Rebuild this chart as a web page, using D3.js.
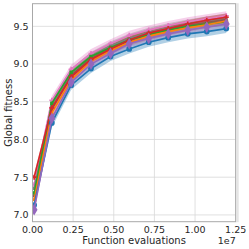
<!DOCTYPE html>
<html>
<head>
<meta charset="utf-8">
<style type="text/css">
    body{ margin:0; background:#fff; }
    svg text{ font-family: "DejaVu Sans", sans-serif; fill:#262626; }
</style>
<script src="https://cdn.jsdelivr.net/npm/d3@7"></script>
</head>
<body>
<div id="chart"></div>
<script type="text/javascript">

var evaluations = [0.1e6, 1.19e6, 2.38e6, 3.6e6, 4.8e6, 5.95e6, 7.15e6, 8.35e6, 9.55e6, 10.72e6, 11.92e6];

var blue   = [7.13, 8.22, 8.72, 8.94, 9.10, 9.20, 9.29, 9.35, 9.40, 9.43, 9.47];
var purple = [7.07, 8.28, 8.76, 9.00, 9.14, 9.27, 9.34, 9.40, 9.45, 9.49, 9.53];
var orange = [7.20, 8.35, 8.79, 9.04, 9.18, 9.29, 9.37, 9.43, 9.48, 9.52, 9.57];
var green  = [7.29, 8.48, 8.89, 9.10, 9.22, 9.32, 9.39, 9.45, 9.50, 9.53, 9.56];
var red    = [7.50, 8.42, 8.83, 9.06, 9.20, 9.32, 9.41, 9.47, 9.53, 9.58, 9.62];
var brown  = [7.25, 8.40, 8.85, 9.07, 9.21, 9.31, 9.39, 9.46, 9.51, 9.55, 9.59];
var gray   = [7.35, 8.45, 8.88, 9.10, 9.24, 9.34, 9.42, 9.48, 9.53, 9.57, 9.61];
var pink   = [7.40, 8.52, 8.93, 9.14, 9.27, 9.38, 9.45, 9.51, 9.56, 9.60, 9.64];

// half width of the shaded band of each run
var spreads = [0.06, 0.05, 0.05, 0.05, 0.05, 0.05, 0.06, 0.06];

var xTicks = [0, 0.25e7, 0.5e7, 0.75e7, 1e7, 1.25e7];
var yTicks = [7.0, 7.5, 8.0, 8.5, 9.0, 9.5];

// drawing order, bottom first
var series = [
    {name:'pink',   values:pink,   color:'#e377c2', symbol:d3.symbolCross,    size:14, spread:spreads[7]},
    {name:'gray',   values:gray,   color:'#7f7f7f', symbol:d3.symbolSquare,   size:8,  spread:spreads[6]},
    {name:'brown',  values:brown,  color:'#8c564b', symbol:d3.symbolTriangle, size:8,  spread:spreads[5]},
    {name:'green',  values:green,  color:'#2ca02c', symbol:d3.symbolSquare,   size:12, spread:spreads[3]},
    {name:'orange', values:orange, color:'#ff7f0e', symbol:d3.symbolTriangle, size:12, spread:spreads[2]},
    {name:'red',    values:red,    color:'#d62728', symbol:d3.symbolCross,    size:14, spread:spreads[4]},
    {name:'blue',   values:blue,   color:'#1f77b4', symbol:d3.symbolCircle,   size:26, spread:spreads[0]},
    {name:'purple', values:purple, color:'#9467bd', symbol:d3.symbolDiamond,  size:40, spread:spreads[1]}
];

var width = 249, height = 249;
var pLeft = 32.5, pRight = 235.7, pTop = 3.7, pBottom = 221.7;

var x = d3.scaleLinear().domain([0, 1.25e7]).range([pLeft, pRight]);
var y = d3.scaleLinear().domain([6.91, 9.80]).range([pBottom, pTop]);

var svg = d3.select('#chart').append('svg')
    .attr('width', width)
    .attr('height', height);

// grid
svg.append('g').selectAll('line').data(xTicks).enter().append('line')
    .attr('x1', x).attr('x2', x).attr('y1', pTop).attr('y2', pBottom)
    .attr('stroke', '#d8d8d8').attr('stroke-width', 0.8);
svg.append('g').selectAll('line').data(yTicks).enter().append('line')
    .attr('y1', y).attr('y2', y).attr('x1', pLeft).attr('x2', pRight)
    .attr('stroke', '#d8d8d8').attr('stroke-width', 0.8);

svg.append('clipPath').attr('id', 'plot')
    .append('rect').attr('x', pLeft).attr('y', pTop)
    .attr('width', pRight - pLeft).attr('height', pBottom - pTop);

var plot = svg.append('g').attr('clip-path', 'url(#plot)');

var area = d3.area()
    .x(function(d, i){ return x(evaluations[i]) })
    .y0(function(d){ return y(d.v - d.s) })
    .y1(function(d){ return y(d.v + d.s) });

var line = d3.line()
    .x(function(d, i){ return x(evaluations[i]) })
    .y(function(d){ return y(d) });

series.forEach(function(s){
    plot.append('path')
        .datum(s.values.map(function(v){ return {v:v, s:s.spread} }))
        .attr('d', area)
        .attr('fill', s.color)
        .attr('fill-opacity', 0.35)
        .attr('stroke', 'none');
});

series.forEach(function(s){
    var g = plot.append('g');
    g.append('path')
        .datum(s.values)
        .attr('d', line)
        .attr('fill', 'none')
        .attr('stroke', s.color)
        .attr('stroke-width', 1.6);
    g.selectAll('path.m').data(s.values).enter().append('path')
        .attr('class', 'm')
        .attr('transform', function(d, i){ return 'translate(' + x(evaluations[i]) + ',' + y(d) + ')' })
        .attr('d', d3.symbol().type(s.symbol).size(s.size))
        .attr('fill', s.color);
});

// frame
svg.append('rect')
    .attr('x', pLeft).attr('y', pTop)
    .attr('width', pRight - pLeft).attr('height', pBottom - pTop)
    .attr('fill', 'none').attr('stroke', '#a8a8a8').attr('stroke-width', 1);
svg.append('rect')
    .attr('x', pRight + 0.5).attr('y', pTop - 0.5)
    .attr('width', 2.5).attr('height', pBottom - pTop + 1)
    .attr('fill', '#e4e4e4');

// tick labels
svg.append('g').selectAll('text').data(yTicks).enter().append('text')
    .attr('x', pLeft - 4)
    .attr('y', function(d){ return y(d) })
    .attr('dy', '0.35em')
    .attr('text-anchor', 'end')
    .attr('font-size', 9.5)
    .text(d3.format('.1f'));

svg.append('g').selectAll('text').data(xTicks).enter().append('text')
    .attr('x', x)
    .attr('y', pBottom + 11)
    .attr('text-anchor', 'middle')
    .attr('font-size', 9.5)
    .text(function(d){ return d3.format('.2f')(d / 1e7) });

svg.append('text')
    .attr('x', pRight)
    .attr('y', 244)
    .attr('text-anchor', 'end')
    .attr('font-size', 9.5)
    .text('1e7');

svg.append('text')
    .attr('x', (pLeft + pRight) / 2)
    .attr('y', 244)
    .attr('text-anchor', 'middle')
    .attr('font-size', 10)
    .text('Function evaluations');

svg.append('text')
    .attr('transform', 'translate(12,' + ((pTop + pBottom) / 2) + ') rotate(-90)')
    .attr('text-anchor', 'middle')
    .attr('font-size', 10)
    .text('Global fitness');

</script>
</body>
</html>
